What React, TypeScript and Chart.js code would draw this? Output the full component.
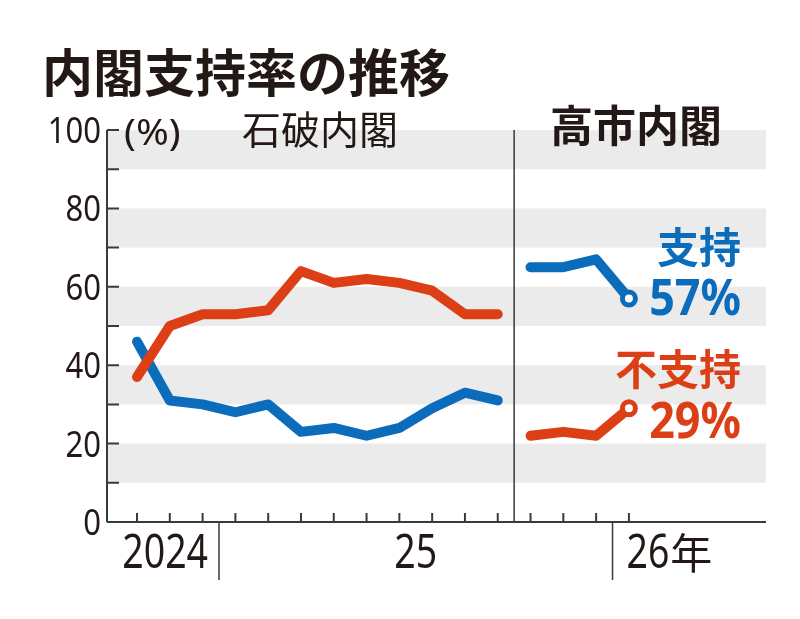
import { useEffect, useRef } from "react";
import { Chart, registerables } from "chart.js";
import type { Plugin } from "chart.js";

Chart.register(...registerables);

// months on the x axis: 2024-10 .. 2026-01 (index 0..15)
const months = [
  "2024-10", "2024-11", "2024-12", "2025-01", "2025-02", "2025-03", "2025-04", "2025-05",
  "2025-06", "2025-07", "2025-08", "2025-09", "2025-10", "2025-11", "2025-12", "2026-01",
];
const ishibaSupport = [46, 31, 30, 28, 30, 23, 24, 22, 24, 29, 33, 31];
const ishibaNonSupport = [37, 50, 53, 53, 54, 64, 61, 62, 61, 59, 53, 53];
const takaichiSupport = [65, 65, 67, 57];
const takaichiNonSupport = [22, 23, 22, 29];
const yTicks = [0, 20, 40, 60, 80, 100];
const yearLabels = ["2024", "25", "26"];

const BLUE = "#0b6cbb";
const RED = "#dc3f16";
const INK = "#221815";
const GRID = "#ebebeb";
const AXIS = "#3a3a3a";
const CJK = '"Noto Sans CJK JP", sans-serif';
const LATIN = '"Noto Sans", sans-serif';

const toPoints = (vals: number[], start: number) =>
  vals.map((v, i) => ({ x: start + i, y: v }));

const lastOnly = (n: number, v: number) => Array.from({ length: n }, (_, i) => (i === n - 1 ? v : 0));

function narrowText(
  ctx: CanvasRenderingContext2D,
  text: string,
  x: number,
  y: number,
  sx: number,
  align: CanvasTextAlign
) {
  ctx.save();
  ctx.translate(x, y);
  ctx.scale(sx, 1);
  ctx.textAlign = align;
  ctx.fillText(text, 0, 0);
  ctx.restore();
}

const decor: Plugin<"line"> = {
  id: "decor",
  beforeDatasetsDraw(chart) {
    const { ctx } = chart;
    const x = chart.scales.x;
    const y = chart.scales.y;
    const y0 = y.getPixelForValue(0);
    const yTop = y.getPixelForValue(100);
    ctx.save();

    // grey bands 90-100, 70-80, ...
    ctx.fillStyle = GRID;
    for (let v = 100; v > 0; v -= 20) {
      const top = y.getPixelForValue(v);
      const bot = y.getPixelForValue(v - 10);
      ctx.fillRect(x.left, top, x.right - x.left, bot - top);
    }

    ctx.strokeStyle = AXIS;
    ctx.lineWidth = 2;
    ctx.beginPath();
    // y axis + ticks every 10
    ctx.moveTo(x.left, yTop);
    ctx.lineTo(x.left, y0);
    for (let v = 10; v <= 100; v += 10) {
      const py = y.getPixelForValue(v);
      ctx.moveTo(x.left, py);
      ctx.lineTo(x.left + 12, py);
    }
    // x axis + month ticks
    ctx.moveTo(x.left, y0);
    ctx.lineTo(x.right, y0);
    months.forEach((_, i) => {
      const px = x.getPixelForValue(i);
      ctx.moveTo(px, y0);
      ctx.lineTo(px, y0 - 9);
    });
    ctx.stroke();

    // cabinet divider and year separators
    ctx.lineWidth = 1.5;
    ctx.beginPath();
    const div = x.getPixelForValue(11.5);
    ctx.moveTo(div, yTop);
    ctx.lineTo(div, y0);
    [2.5, 14.5].forEach((v) => {
      const px = x.getPixelForValue(v);
      ctx.moveTo(px, y0);
      ctx.lineTo(px, y0 + 58);
    });
    ctx.stroke();
    ctx.restore();
  },
  afterDatasetsDraw(chart) {
    const { ctx } = chart;
    const x = chart.scales.x;
    const y = chart.scales.y;
    const y0 = y.getPixelForValue(0);
    ctx.save();
    ctx.fillStyle = INK;

    // title
    ctx.textBaseline = "middle";
    ctx.textAlign = "left";
    ctx.font = `bold 51px ${CJK}`;
    ctx.fillText("内閣支持率の推移", 42, 73);

    ctx.font = `39px ${CJK}`;
    ctx.fillText("石破内閣", 242, 129);
    ctx.font = `bold 43px ${CJK}`;
    ctx.fillText("高市内閣", 550, 126);

    // y tick labels
    ctx.textBaseline = "alphabetic";
    ctx.font = `37px ${LATIN}`;
    yTicks.forEach((v) => {
      narrowText(ctx, String(v), 101, y.getPixelForValue(v) + 13, 0.84, "right");
    });
    ctx.font = `36px ${LATIN}`;
    narrowText(ctx, "(%)", 124, 145, 1.1, "left");

    // year labels
    ctx.font = `48px ${LATIN}`;
    const yb = y0 + 46;
    narrowText(ctx, yearLabels[0], x.getPixelForValue(2.5) - 11, yb, 0.78, "right");
    narrowText(ctx, yearLabels[1], x.getPixelForValue(8.5), yb, 0.78, "center");
    const x26 = x.getPixelForValue(14.5) + 14;
    narrowText(ctx, yearLabels[2], x26, yb, 0.78, "left");
    const w26 = ctx.measureText(yearLabels[2]).width * 0.78;
    ctx.font = `42px ${CJK}`;
    ctx.textAlign = "left";
    ctx.fillText("年", x26 + w26 + 1, yb + 1);

    // series labels
    const lx = 741;
    ctx.textBaseline = "middle";
    ctx.textAlign = "right";
    ctx.fillStyle = BLUE;
    ctx.font = `bold 42px ${CJK}`;
    ctx.fillText("支持", lx, 247);
    ctx.textBaseline = "alphabetic";
    ctx.font = `bold 51px ${LATIN}`;
    narrowText(ctx, `${takaichiSupport[takaichiSupport.length - 1]}%`, lx, 315, 0.88, "right");

    ctx.fillStyle = RED;
    ctx.textBaseline = "middle";
    ctx.font = `bold 42px ${CJK}`;
    ctx.fillText("不支持", lx, 369);
    ctx.textBaseline = "alphabetic";
    ctx.font = `bold 51px ${LATIN}`;
    narrowText(ctx, `${takaichiNonSupport[takaichiNonSupport.length - 1]}%`, lx, 438, 0.88, "right");

    ctx.restore();
  },
};

export default function App() {
  const chartRef = useRef<HTMLCanvasElement>(null);
  const chartInstance = useRef<Chart | null>(null);

  useEffect(() => {
    if (!chartRef.current) return;
    const ctx = chartRef.current.getContext("2d");
    if (!ctx) return;

    if (chartInstance.current) {
      chartInstance.current.destroy();
    }

    const line = (data: { x: number; y: number }[], color: string, open: boolean) => ({
      data,
      borderColor: color,
      backgroundColor: "#ffffff",
      borderWidth: 10,
      borderCapStyle: "round" as const,
      borderJoinStyle: "round" as const,
      tension: 0,
      pointRadius: open ? lastOnly(data.length, 6.5) : 0,
      pointBorderWidth: open ? lastOnly(data.length, 5) : 0,
      pointBackgroundColor: "#ffffff",
      pointBorderColor: color,
      fill: false,
    });

    chartInstance.current = new Chart(ctx, {
      type: "line",
      data: {
        datasets: [
          line(toPoints(ishibaNonSupport, 0), RED, false),
          line(toPoints(ishibaSupport, 0), BLUE, false),
          line(toPoints(takaichiNonSupport, 12), RED, true),
          line(toPoints(takaichiSupport, 12), BLUE, true),
        ],
      },
      options: {
        animation: false,
        responsive: true,
        maintainAspectRatio: false,
        events: [],
        layout: { padding: { left: 107, right: 34, top: 130, bottom: 97 } },
        plugins: {
          legend: { display: false },
          tooltip: { enabled: false },
        },
        scales: {
          x: { type: "linear", min: -0.915, max: 19.18, display: false },
          y: { min: 0, max: 100, display: false },
        },
      },
      plugins: [decor],
    });

    return () => {
      if (chartInstance.current) {
        chartInstance.current.destroy();
        chartInstance.current = null;
      }
    };
  }, []);

  return (
    <div style={{ position: "fixed", left: 0, top: 0, width: 800, height: 619, background: "#fff" }}>
      <canvas ref={chartRef} />
    </div>
  );
}
